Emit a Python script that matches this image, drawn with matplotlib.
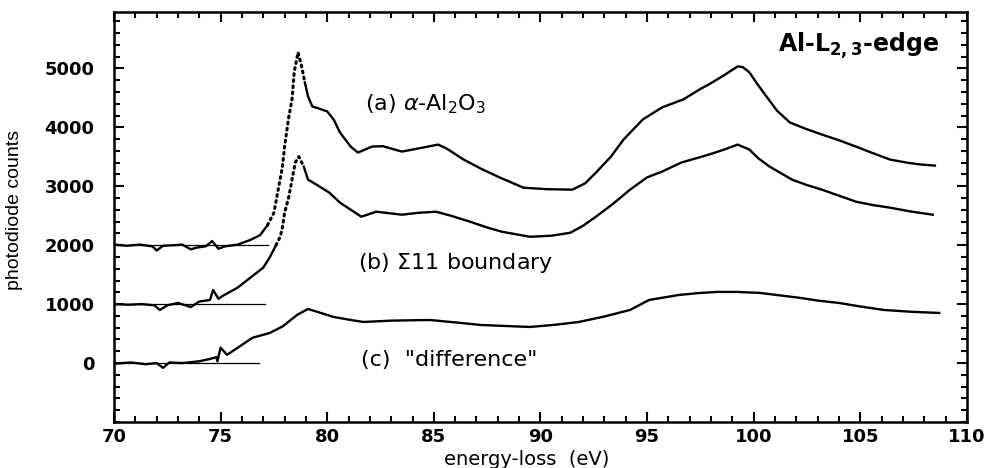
import numpy as np
import matplotlib
matplotlib.use('Agg')
from matplotlib import pyplot as plt
from matplotlib.ticker import MultipleLocator, FixedLocator

# spectrum (a) alpha-Al2O3
a_ev = [70.0, 70.6, 71.2, 71.8, 72.0, 72.3, 72.8, 73.2, 73.6, 73.9, 74.3, 74.6, 74.9,
        75.2, 75.8, 76.4, 76.85, 77.2, 77.5, 77.7, 77.9, 78.0, 78.2, 78.35, 78.45,
        78.63, 78.8, 78.95, 79.1, 79.3, 79.6, 80.0, 80.3, 80.6, 81.1, 81.44, 82.1,
        82.6, 83.5, 84.4, 85.2, 85.6, 86.4, 87.2, 88.0, 89.2, 90.3, 91.5, 92.1, 92.6,
        93.3, 93.9, 94.8, 95.7, 96.7, 97.5, 97.9, 98.6, 99.25, 99.5, 99.8, 100.2,
        100.6, 101.1, 101.7, 102.4, 103.2, 104.0, 104.8, 105.6, 106.4, 107.2, 107.8,
        108.5]
a_counts = [2010, 1990, 2010, 1980, 1910, 1990, 2000, 2010, 1930, 1960, 1980, 2070, 1940,
            1980, 2010, 2090, 2170, 2340, 2551, 2942, 3333, 3673, 4184, 4473, 4932,
            5272, 5034, 4762, 4524, 4354, 4320, 4269, 4133, 3911, 3673, 3571, 3673,
            3680, 3588, 3650, 3707, 3640, 3452, 3300, 3163, 2976, 2950, 2942, 3050, 3231,
            3500, 3793, 4133, 4337, 4473, 4650, 4728, 4880, 5034, 5020, 4932, 4720,
            4524, 4280, 4082, 3980, 3878, 3780, 3673, 3560, 3452, 3400, 3370,
            3350]

# spectrum (b) Sigma11 boundary
b_ev = [70.0, 70.7, 71.3, 71.9, 72.15, 72.5, 73.0, 73.6, 74.0, 74.5, 74.65, 74.9, 75.1,
        75.8, 76.4, 77.0, 77.3, 77.6, 77.8, 77.9, 78.0, 78.2, 78.35, 78.5, 78.67,
        78.9, 79.1, 79.5, 80.1, 80.6, 81.1, 81.6, 82.3, 83.5, 84.3, 85.1, 85.8, 86.7,
        87.5, 88.2, 89.5, 90.5, 91.4, 92.0, 92.6, 93.4, 94.2, 95.0, 95.7, 96.6, 97.9,
        98.6, 99.25, 99.8, 100.2, 100.75, 101.8, 102.5, 103.2, 104.0, 104.8, 105.6,
        106.4, 107.4, 108.4]
b_counts = [1000, 990, 1000, 980, 900, 980, 1020, 950, 1045, 1070, 1240, 1090, 1140,
            1280, 1450, 1620, 1790, 2000, 2150, 2300, 2551, 2823, 3112, 3401, 3503,
            3333, 3112, 3027, 2891, 2721, 2602, 2483, 2568, 2517, 2550, 2568, 2500, 2398,
            2300, 2228, 2143, 2160, 2211, 2330, 2483, 2700, 2942, 3150, 3248, 3401, 3537,
            3620, 3707, 3622, 3480, 3333, 3112, 3020, 2942, 2840, 2738, 2680,
            2636, 2570, 2517]

# spectrum (c) "difference"
c_ev = [70.0, 70.8, 71.5, 72.0, 72.3, 72.6, 73.2, 74.0, 74.5, 74.8, 74.85, 75.0, 75.3,
        75.8, 76.5, 77.3, 77.9, 78.6, 79.1, 79.7, 80.3, 81.1, 81.7, 83.0, 84.8, 86.0,
        87.2, 88.3, 89.5, 90.7, 91.8, 93.0, 94.2, 95.1, 96.5, 97.5, 98.3, 99.2, 100.3,
        101.2, 102.2, 103.0, 104.0, 105.0, 106.1, 107.4, 108.7]
c_counts = [-10, 10, -20, 0, -80, 10, 0, 30, 70, 100, 30, 260, 140,
            260, 430, 510, 620, 820, 918, 850, 782, 731, 697, 720, 731, 690,
            646, 630, 612, 650, 697, 790, 901, 1071, 1156, 1190, 1207, 1207, 1190,
            1150, 1105, 1060, 1020, 960, 901, 870, 850]

# pre-edge background levels and where they stop
bg_levels = [2000, 1000, 0]
bg_ends = [77.2, 77.1, 76.8]

plt.rcParams['font.family'] = 'DejaVu Sans'
plt.rcParams['mathtext.fontset'] = 'dejavusans'

fig = plt.figure(figsize=(9.94, 4.68), dpi=100)
ax = fig.add_axes([0.1147, 0.0983, 0.858, 0.8765])


def draw(ev, counts, dotted=None):
    ev = np.asarray(ev)
    counts = np.asarray(counts)
    if dotted is None:
        ax.plot(ev, counts, color='black', lw=1.7)
        return
    lo, hi = dotted
    left = ev <= lo
    right = ev >= hi
    mid = (ev >= lo) & (ev <= hi)
    ax.plot(ev[left], counts[left], color='black', lw=1.7)
    ax.plot(ev[right], counts[right], color='black', lw=1.7)
    ax.plot(ev[mid], counts[mid], color='black', lw=2.2, ls=(0, (0.6, 1.4)),
            dash_capstyle='round')


draw(a_ev, a_counts, dotted=(77.2, 78.95))
draw(b_ev, b_counts, dotted=(77.6, 78.9))
draw(c_ev, c_counts)

for lev, end in zip(bg_levels, bg_ends):
    ax.plot([70, end], [lev, lev], color='black', lw=0.9)

ax.set_xlim(70, 110)
ax.set_ylim(-1000, 5960)
ax.xaxis.set_major_locator(MultipleLocator(5))
ax.xaxis.set_minor_locator(MultipleLocator(1))
ax.yaxis.set_major_locator(FixedLocator([0, 1000, 2000, 3000, 4000, 5000]))
ax.yaxis.set_minor_locator(MultipleLocator(200))
ax.tick_params(which='both', direction='in', top=True, right=True, width=1.5,
               labelsize=13)
ax.tick_params(axis='y', pad=14)
ax.tick_params(axis='x', pad=4)
ax.tick_params(which='major', length=7)
ax.tick_params(which='minor', length=4)
for lab in ax.get_xticklabels() + ax.get_yticklabels():
    lab.set_fontweight('bold')
for s in ax.spines.values():
    s.set_linewidth(1.8)

ax.set_xlabel('energy-loss  (eV)', fontsize=14)
ax.xaxis.set_label_coords(0.484, -0.092)
ax.xaxis.label.set_va('center')
ax.set_ylabel('photodiode counts', fontsize=14,
              family=['Liberation Sans Narrow', 'Liberation Sans'])
ax.yaxis.set_label_coords(-0.117, 0.517)
ax.yaxis.label.set_va('center')

ax.text(81.75, 4400, r'(a) $\alpha$-Al$_2$O$_3$', fontsize=16, va='center')
ax.text(81.45, 1700, r'(b) $\Sigma$11 boundary', fontsize=16, va='center')
ax.text(81.6, 50, '(c)  "difference"', fontsize=16, va='center')
ax.text(108.7, 5380, r'Al-L$_{\mathbf{2,3}}$-edge', fontsize=17, fontweight='bold',
        ha='right', va='center')

fig.savefig('out.png', dpi=100)
